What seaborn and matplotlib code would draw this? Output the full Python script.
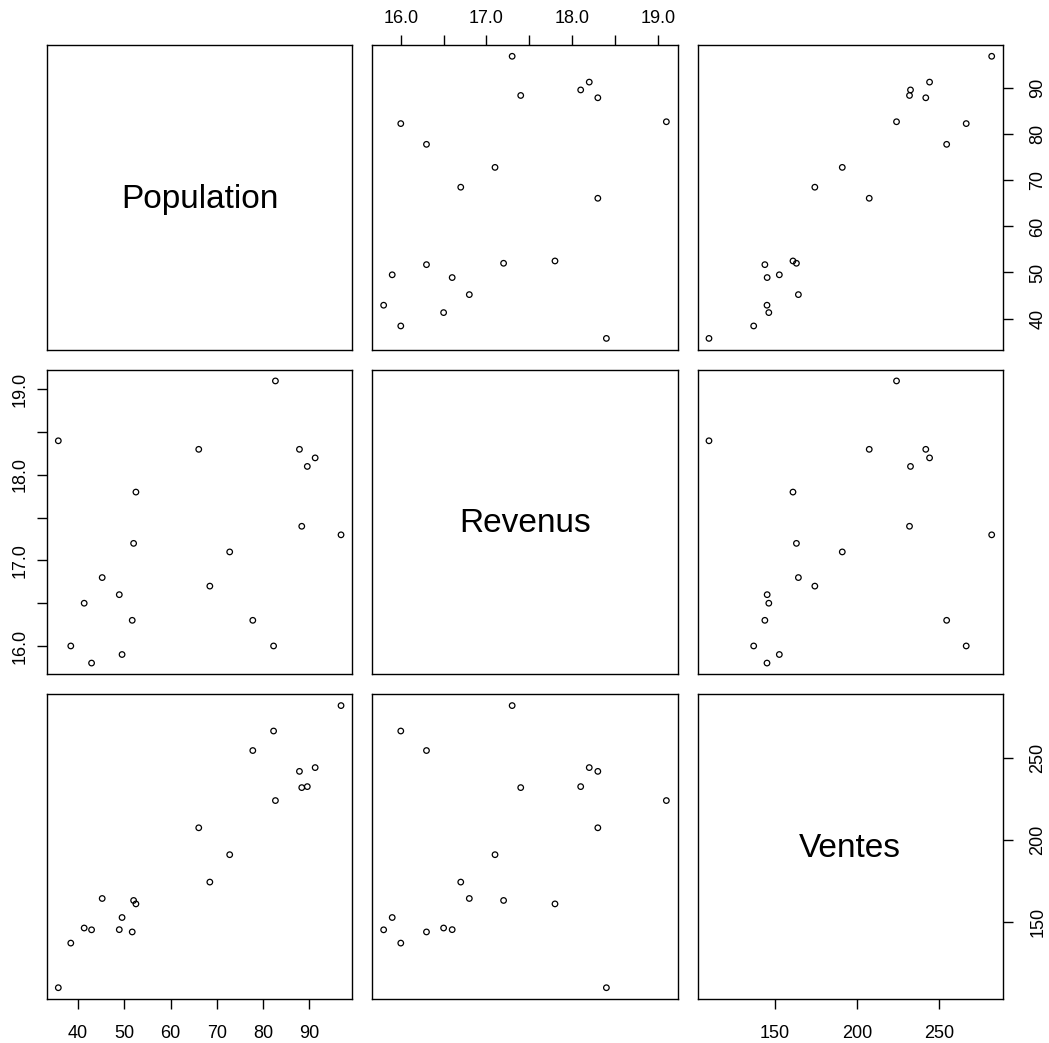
import pandas as pd
import matplotlib
matplotlib.use('Agg')
import matplotlib.pyplot as plt
import seaborn as sns
from matplotlib.ticker import FixedLocator, FuncFormatter

population = [68.5, 45.2, 91.3, 77.8, 96.9, 66.1, 49.5, 52.0, 48.9, 38.4, 87.9,
              72.8, 88.4, 42.9, 52.5, 35.7, 41.3, 51.7, 89.6, 82.7, 82.3]
revenus = [16.7, 16.8, 18.2, 16.3, 17.3, 18.3, 15.9, 17.2, 16.6, 16.0, 18.3,
           17.1, 17.4, 15.8, 17.8, 18.4, 16.5, 16.3, 18.1, 19.1, 16.0]
ventes = [174.4, 164.4, 244.2, 254.6, 282.0, 207.5, 152.8, 163.2, 145.4, 137.2, 241.9,
          191.1, 232.0, 145.3, 161.1, 110.0, 146.4, 144.0, 232.6, 224.1, 266.5]

var_names = ['Population', 'Revenus', 'Ventes']
pop_ticks = [40, 50, 60, 70, 80, 90]
rev_ticks = [16.0, 16.5, 17.0, 17.5, 18.0, 18.5, 19.0]
ventes_ticks = [150, 200, 250]

df = pd.DataFrame({'Population': population, 'Revenus': revenus, 'Ventes': ventes})

sns.set_theme(style='white', rc={'axes.edgecolor': 'black', 'axes.linewidth': 1.0,
                                 'xtick.color': 'black', 'ytick.color': 'black',
                                 'text.color': 'black'})
plt.rcParams['font.family'] = ['Liberation Sans', 'DejaVu Sans']

g = sns.PairGrid(df, vars=var_names, height=3.4, despine=False)
g.map_offdiag(sns.scatterplot, facecolor='none', edgecolor='black', s=16, linewidth=0.9)

# R style 4% padding on each range
def padded(vals):
    lo, hi = min(vals), max(vals)
    d = (hi - lo) * 0.04
    return lo - d, hi + d

lims = [padded(population), padded(revenus), padded(ventes)]
ticks = [pop_ticks, rev_ticks, ventes_ticks]

def rev_fmt(v, p):
    return f'{v:.1f}' if abs(v - round(v)) < 1e-6 else ''

fmts = [FuncFormatter(lambda v, p: f'{v:.0f}'), FuncFormatter(rev_fmt),
        FuncFormatter(lambda v, p: f'{v:.0f}')]

for i in range(3):
    for j in range(3):
        ax = g.axes[i, j]
        ax.set_xlabel('')
        ax.set_ylabel('')
        ax.set_xlim(lims[j])
        ax.set_ylim(lims[i])
        ax.xaxis.set_major_locator(FixedLocator(ticks[j]))
        ax.xaxis.set_major_formatter(fmts[j])
        ax.yaxis.set_major_locator(FixedLocator(ticks[i]))
        ax.yaxis.set_major_formatter(fmts[i])
        ax.tick_params(which='both', bottom=False, top=False, left=False, right=False,
                       labelbottom=False, labeltop=False, labelleft=False, labelright=False,
                       direction='out', length=7, width=1.0, labelsize=13)
        if i == j:
            ax.text(0.5, 0.466, var_names[i], transform=ax.transAxes, ha='center',
                    va='baseline', fontsize=24, color='black')

# axes on alternating sides, like R pairs()
g.axes[2, 0].tick_params(axis='x', bottom=True, labelbottom=True, pad=12)
g.axes[2, 2].tick_params(axis='x', bottom=True, labelbottom=True, pad=12)
g.axes[0, 1].tick_params(axis='x', top=True, labeltop=True, pad=6)
g.axes[1, 0].tick_params(axis='y', left=True, labelleft=True, pad=6, labelrotation=90)
g.axes[0, 2].tick_params(axis='y', right=True, labelright=True, pad=12, labelrotation=90)
g.axes[2, 2].tick_params(axis='y', right=True, labelright=True, pad=12, labelrotation=90)
for lab in g.axes[1, 0].get_yticklabels():
    lab.set_va('center')
for ax in (g.axes[0, 2], g.axes[2, 2]):
    for lab in ax.get_yticklabels():
        lab.set_va('center')

g.figure.set_size_inches(10.49, 10.43)
g.figure.subplots_adjust(left=47 / 1049, right=1003 / 1049, bottom=44 / 1043,
                         top=1 - 45 / 1043, wspace=0.0655, hspace=0.0655)
g.figure.savefig('out.png', dpi=100)
